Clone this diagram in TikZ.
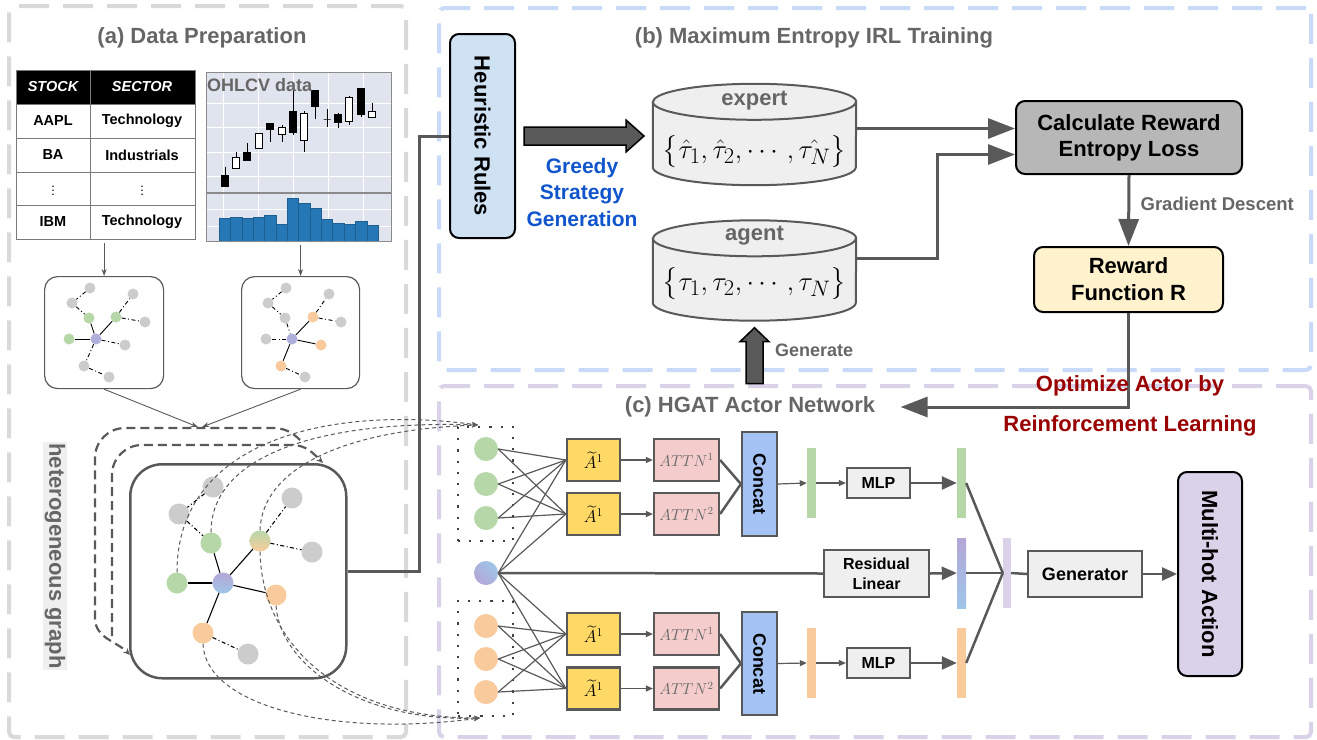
\documentclass[tikz,border=0pt]{standalone}
\usepackage{amsmath}
\usepackage{graphicx}
\usepackage{fontspec}
\setsansfont{Liberation Sans}
\usetikzlibrary{arrows.meta,positioning,calc}

\definecolor{lineColor}{RGB}{89,89,89}
\definecolor{textGray}{RGB}{102,102,102}
\definecolor{panelA}{RGB}{217,217,217}
\definecolor{panelB}{RGB}{201,218,248}
\definecolor{panelC}{RGB}{217,210,233}
\definecolor{boxBg}{RGB}{239,239,239}
\definecolor{nodeGray}{RGB}{204,204,204}
\definecolor{nodeGreen}{RGB}{182,215,168}
\definecolor{nodeOrange}{RGB}{249,203,156}
\definecolor{nodePurple}{RGB}{180,167,214}
\definecolor{nodeBlue}{RGB}{159,197,232}
\definecolor{ruleBlue}{RGB}{207,226,243}
\definecolor{lossGray}{RGB}{183,183,183}
\definecolor{rewardYellow}{RGB}{255,242,204}
\definecolor{adjYellow}{RGB}{255,217,102}
\definecolor{attnPink}{RGB}{244,204,204}
\definecolor{concatBlue}{RGB}{164,194,244}
\definecolor{actionLilac}{RGB}{217,210,233}
\definecolor{chartBg}{RGB}{224,228,239}
\definecolor{volBlue}{RGB}{38,119,181}
\definecolor{greedyBlue}{RGB}{17,85,204}
\definecolor{optRed}{RGB}{153,0,0}

\begin{document}
\begin{tikzpicture}[
  x=1pt, y=1pt,
  font=\sffamily,
  panel/.style={dash pattern=on 30pt off 14pt, line width=4pt, rounded corners=5pt, inner sep=0pt, anchor=north west},
  title/.style={font=\sffamily\bfseries\fontsize{22}{26}\selectfont, text=textGray},
  sublabel/.style={font=\sffamily\bfseries\fontsize{18}{21}\selectfont, text=textGray},
  redlabel/.style={font=\sffamily\bfseries\fontsize{22}{26}\selectfont, text=optRed},
  bigbox/.style={draw=black, line width=2pt, rounded corners=9pt, inner sep=0pt, align=center, font=\sffamily\bfseries\fontsize{22}{26}\selectfont},
  block/.style={draw=lineColor, line width=2.2pt, inner sep=0pt, align=center, font=\sffamily\bfseries\fontsize{16}{20}\selectfont},
  vtext/.style={rotate=-90, font=\sffamily\bfseries\fontsize{22}{26}\selectfont},
  cell/.style={font=\sffamily\bfseries\fontsize{14.5}{17}\selectfont},
  headcell/.style={font=\sffamily\bfseries\itshape\fontsize{14.5}{17}\selectfont, text=white},
  tableline/.style={draw=lineColor!80, line width=1pt},
  mininode/.style={circle, inner sep=0pt, minimum size=11pt},
  hnode/.style={circle, inner sep=0pt, minimum size=21pt},
  fnode/.style={circle, inner sep=0pt, minimum size=24pt},
  bar/.style={inner sep=0pt, minimum width=9pt, minimum height=70pt},
  dbspan/.style={inner sep=0pt},
  dbline/.style={draw=lineColor, line width=2pt, fill=boxBg},
  link/.style={draw=black, line width=1.1pt},
  weaklink/.style={draw=black, line width=1.1pt, dash pattern=on 4pt off 2.5pt on 1pt off 2.5pt},
  thinarrow/.style={draw=lineColor, line width=0.9pt, -{Stealth[length=7pt,width=5pt]}},
  stackline/.style={draw=lineColor, line width=2.2pt, dash pattern=on 9pt off 5pt},
  flowcurve/.style={draw=lineColor, line width=1pt, dash pattern=on 4pt off 3pt, -{Stealth[length=6pt,width=5pt]}},
  dotbox/.style={draw=black!75, line width=2.2pt, dash pattern=on 2.2pt off 9pt, inner sep=0pt},
  wire/.style={draw=lineColor, line width=3pt},
  flow/.style={wire, -{Triangle[length=27pt,width=20pt]}},
  bulk/.style={draw=black, line width=1.5pt, fill=lineColor, line join=miter},
  fan/.style={draw=lineColor, line width=1.2pt},
  smallflow/.style={draw=lineColor, line width=1.2pt, -{Triangle[length=7pt,width=6pt]}},
  merge/.style={draw=lineColor, line width=2.5pt},
  stepflow/.style={merge, -{Triangle[length=15pt,width=13pt]}}
]
\useasboundingbox (0,0) rectangle (1317,-739);

% ---------------- panels ----------------
\node[panel, draw=panelA, minimum width=397, minimum height=731] (pa) at (7,-4) {};
\node[panel, draw=panelB, minimum width=872, minimum height=362] (pb) at (437,-6) {};
\node[panel, draw=panelC, minimum width=872, minimum height=351] (pc) at (437,-384) {};

\node[title] (ta) at (202,-38) {(a) Data Preparation};
\node[title] (tb) at (814,-38) {(b) Maximum Entropy IRL Training};
\node[title] (tc) at (750,-407) {(c) HGAT Actor Network};

% ---------------- (a) stock table ----------------
\node[inner sep=0pt, minimum width=179, minimum height=169, anchor=north west] (tbl) at (16,-70) {};
\fill[black] (tbl.north west) rectangle (195,-104);
\foreach \ry in {104,138,172,205}
  \draw[tableline] (16,-\ry) -- (195,-\ry);
\draw[tableline] (90,-70) -- (90,-239);
\draw[tableline] (tbl.north west) rectangle (tbl.south east);
\node[headcell] (hstock) at (53,-87) {STOCK};
\node[headcell] (hsector) at (142,-87) {SECTOR};
\foreach \tick/\sec/\ry [count=\r] in {AAPL/Technology/121, BA/Industrials/155, {\fontsize{9}{9}\selectfont$\vdots$}/{\fontsize{9}{9}\selectfont$\vdots$}/188, IBM/Technology/222} {
  \node[cell] (tick\r) at (53,-\ry) {\tick};
  \node[cell] (sec\r) at (142,-\ry) {\sec};
}

% ---------------- (a) OHLCV chart ----------------
\node[fill=chartBg, inner sep=0pt, minimum width=185, minimum height=169, anchor=north west] (chart) at (206,-72) {};
\foreach \gx in {223,258,293,328,363}
  \draw[white, line width=0.8pt] (\gx,-72) -- (\gx,-241);
\foreach \gy in {103,127,152,176,209,226}
  \draw[white, line width=0.8pt] (206,-\gy) -- (391,-\gy);
\foreach \k/\vb in {0/218,1/217,2/218,3/217,4/215,5/224,6/198,7/203,8/208,9/219,10/223,11/224,12/221,13/225}
  \filldraw[fill=volBlue, draw=volBlue!80!black, line width=0.3pt] (219+11.36*\k,-\vb) rectangle (230.36+11.36*\k,-241);
\foreach \cx/\wt/\wb/\bt/\bb/\cf in {225/167/187/175/186/black, 236/152/168/157/168/white, 247/143/161/152/160/black,
    259/133/148/133/148/white, 270/123/142/123/129/black, 282/125/142/127/134/white, 293/89/135/111/132/black,
    304/111/152/113/140/white, 315/90/119/90/106/black, 327/109/127/119/119/black, 338/113/128/114/122/black,
    349/96/125/97/121/white, 361/88/117/88/114/black, 372/103/118/111/117/white} {
  \draw[black, line width=0.6pt] (\cx,-\wt) -- (\cx,-\wb);
  \filldraw[fill=\cf, draw=black, line width=0.6pt] (\cx-3.5,-\bt) rectangle (\cx+3.5,-\bb);
}
\draw[lineColor!70, line width=1.2pt] (206,-193) -- (391,-193);
\draw[lineColor!70, line width=1pt] (chart.north west) rectangle (chart.south east);
\node[sublabel, anchor=west, inner sep=1pt] (ohlcv) at (206,-85) {OHLCV data};

% ---------------- (a) two relation graphs ----------------
\node[draw=lineColor, line width=1.2pt, rounded corners=13pt, minimum width=119, minimum height=112, anchor=north west] (ga) at (44,-276) {};
\node[draw=lineColor, line width=1.2pt, rounded corners=13pt, minimum width=118, minimum height=112, anchor=north west] (gb) at (241,-276) {};
\draw[thinarrow] (tbl.south -| ga.north) ++(0,-4) -- (ga.north);
\draw[thinarrow] (chart.south -| gb.north) ++(0,-4) -- (gb.north);

\foreach \n/\px/\py/\c in {a1/90/288/nodeGray, a2/72/303/nodeGray, a3/89/318/nodeGreen, a4/116/317/nodeGreen,
    a5/133/294/nodeGray, a6/145/322/nodeGray, a7/69/339/nodeGreen, a8/96/339/nodePurple!70!nodeBlue,
    a9/125/345/nodeGray, a10/84/366/nodeGray, a11/109/377/nodeGray,
    b1/286/288/nodeGray, b2/268/303/nodeGray, b3/285/318/nodeGray, b4/313/317/nodeOrange,
    b5/329/294/nodeGray, b6/341/322/nodeGray, b7/266/339/nodeGray, b8/292/339/nodePurple!70!nodeBlue,
    b9/321/345/nodeOrange, b10/281/366/nodeOrange, b11/305/377/nodeGray}
  \node[mininode, fill=\c] (\n) at (\px,-\py) {};
\foreach \u/\v in {a8/a3, a8/a4, a8/a7, b8/b4, b8/b9, b8/b10}
  \draw[link, line width=0.9pt] (\u) -- (\v);
\foreach \u/\v in {a1/a2, a2/a3, a4/a5, a4/a6, a8/a9, a8/a10, a10/a11, b1/b2, b2/b3, b3/b8, b4/b5, b4/b6, b8/b7, b10/b11}
  \draw[weaklink, line width=0.9pt] (\u) -- (\v);

\coordinate (hin) at (200,-427);
\draw[thinarrow] (ga.south) -- ([xshift=-2]hin);
\draw[thinarrow] (gb.south) -- ([xshift=2]hin);

% ---------------- (a) heterogeneous graph ----------------
\node[fill=boxBg, inner sep=2pt, vtext, text=textGray] (hglbl) at (55,-556) {heterogeneous graph};

\draw[stackline, -{Stealth[length=7pt,width=6pt]}] (300,-440) to[out=135,in=0] (272,-428) -- (125,-428)
  to[out=180,in=90] (95,-458) -- (95,-618) to[out=-90,in=135] (130,-655);
\draw[stackline, -{Stealth[length=7pt,width=6pt]}] (112,-636) -- (112,-475) to[out=90,in=180] (142,-445)
  -- (292,-445) to[out=0,in=135] (323,-463);

\node[draw=lineColor, line width=2.5pt, fill=white, rounded corners=32pt, minimum width=216, minimum height=214, anchor=north west] (hg) at (129,-463) {};

\foreach \n/\px/\py/\c in {h1/213/487/nodeGray, h2/179/514/nodeGray, h3/292/498/nodeGray, h4/211/543/nodeGreen,
    h6/312/552/nodeGray, h7/177/583/nodeGreen, h9/276/595/nodeOrange, h10/203/633/nodeOrange, h11/248/654/nodeGray}
  \node[hnode, fill=\c] (\n) at (\px,-\py) {};
\node[hnode, top color=nodeGreen, bottom color=nodeOrange] (h5) at (260,-541) {};
\node[hnode, top color=nodePurple, bottom color=nodeBlue] (h8) at (223,-583) {};
\foreach \u/\v in {h8/h4, h8/h5, h8/h7, h8/h9, h8/h10}
  \draw[link] (\u) -- (\v);
\foreach \u/\v in {h1/h2, h2/h4, h5/h3, h5/h6, h10/h11}
  \draw[weaklink] (\u) -- (\v);

% node features flowing to the actor network
\coordinate (upin) at (478,-425);
\coordinate (lowin) at (480,-718);
\draw[flowcurve] (h7.north) .. controls (177,-440) and (330,-405) .. (upin);
\draw[flowcurve] (h4.north) .. controls (211,-455) and (320,-420) .. (upin);
\draw[flowcurve] (h5.north) .. controls (262,-470) and (340,-430) .. (upin);
\draw[flowcurve] (h10.south) .. controls (205,-705) and (330,-738) .. (lowin);
\draw[flowcurve] (h9.south) .. controls (280,-665) and (360,-722) .. (lowin);
\draw[flowcurve] (h5.south) .. controls (262,-645) and (340,-718) .. (lowin);

% ---------------- (b) IRL training ----------------
\node[bigbox, fill=ruleBlue, minimum width=65, minimum height=204] (rules) at (482.5,-136) {};
\node[vtext] (rulestext) at (rules.center) {Heuristic Rules};
\draw[wire] (hg.east) -- ++(72,0) |- (rules.west);

\draw[bulk] ($(rules.east)+(8,9)$) -- ++(102,0) -- ++(0,7) -- ++(18,-16) -- ++(-18,-16) -- ++(0,7) -- ++(-102,0) -- cycle;
\node[font=\sffamily\bfseries\fontsize{21}{26.5}\selectfont, text=greedyBlue, align=center] (greedy) at (582,-192) {Greedy\\Strategy\\Generation};

\node[dbspan, minimum width=203, minimum height=101] (expert) at (754.5,-134.5) {};
\node[dbspan, minimum width=203, minimum height=100] (agent) at (754.5,-270.5) {};
\foreach \db in {expert,agent} {
  \filldraw[dbline] ($(\db.north west)+(0,-18)$) -- ($(\db.south west)+(0,18)$)
    arc[start angle=180, end angle=360, x radius=101.5, y radius=18]
    -- ($(\db.north east)+(0,-18)$) arc[start angle=0, end angle=180, x radius=101.5, y radius=18] -- cycle;
  \draw[dbline, fill=none] ($(\db.north west)+(0,-18)$) arc[start angle=180, end angle=360, x radius=101.5, y radius=18];
}
\node[title] (explbl) at ($(expert.north)+(0,-17)$) {expert};
\node[title] (agtlbl) at ($(agent.north)+(0,-15)$) {agent};
\node (expset) at ($(expert.center)+(0,-17)$) {\scalebox{1.08}{\Huge$\bigl\{\hat{\tau}_1,\hat{\tau}_2,\cdots,\hat{\tau_N}\bigr\}$}};
\node (agtset) at ($(agent.center)+(0,-13)$) {\scalebox{1.08}{\Huge$\bigl\{\tau_1,\tau_2,\cdots,\tau_N\bigr\}$}};

\node[bigbox, fill=lossGray, minimum width=226, minimum height=73] (calc) at (1129,-137.5) {Calculate Reward\\Entropy Loss};
\node[bigbox, fill=rewardYellow, minimum width=189, minimum height=65] (reward) at (1128.5,-279.5) {Reward\\[1pt]Function R};

\coordinate (eo) at ($(expert.east)+(0,6)$);
\draw[flow] (eo) -- (eo -| calc.west);
\coordinate (ao) at ($(agent.east)+(0,12)$);
\coordinate (ai) at ($(calc.west)+(0,-17)$);
\draw[flow] (ao) -- ++(81,0) |- (ai);
\draw[flow] (calc.south) -- (reward.north) node[pos=0.4, right=7pt, sublabel, font=\sffamily\bfseries\fontsize{18.5}{21}\selectfont] (gdlbl) {Gradient Descent};
\draw[flow] (reward.south) |- ([xshift=22]tc.east);
\node[redlabel] (opt1) at (1130,-386) {Optimize Actor by};
\node[redlabel] (opt2) at (1130,-426) {Reinforcement Learning};

\draw[bulk] ($(agent.south)+(0,-7)$) -- ++(14.5,-14) -- ++(-6,0) -- ++(0,-42) -- ++(-17,0) -- ++(0,42) -- ++(-6,0) -- cycle;
\node[sublabel, anchor=west] (genlbl) at ($(agent.south)+(17,-30)$) {Generate};

% ---------------- (c) actor network ----------------
\node[dotbox, minimum width=55, minimum height=114] (udot) at (485.5,-484) {};
\node[dotbox, minimum width=55, minimum height=115] (ldot) at (485.5,-658.5) {};
\foreach \n/\py in {g1/449, g2/484, g3/518}
  \node[fnode, fill=nodeGreen] (\n) at (486,-\py) {};
\foreach \n/\py in {o1/626, o2/659, o3/692}
  \node[fnode, fill=nodeOrange] (\n) at (486,-\py) {};
\node[fnode, left color=nodePurple, right color=nodeBlue, shading angle=135] (p0) at (486,-573) {};

\foreach \n/\py in {ya1/460, ya2/514, yb1/634, yb2/688.5}
  \node[block, fill=adjYellow, minimum width=53, minimum height=42, font=\LARGE] (\n) at (593.5,-\py) {$\widetilde{A}^1$};
\foreach \n/\py/\h in {aa1/460/1, aa2/514/2, ab1/634/1, ab2/688.5/2}
  \node[block, fill=attnPink, minimum width=65, minimum height=42, text=textGray, font=\Large] (\n) at (686.5,-\py) {\scalebox{1.1}{$ATTN^{\h}$}};
\node[block, fill=concatBlue, minimum width=35, minimum height=104, label={[vtext, font=\sffamily\bfseries\fontsize{18}{22}\selectfont]center:Concat}] (ca) at (759.5,-484) {};
\node[block, fill=concatBlue, minimum width=35, minimum height=103, label={[vtext, font=\sffamily\bfseries\fontsize{18}{22}\selectfont]center:Concat}] (cb) at (759.5,-663.5) {};

\foreach \s in {g1,g2,g3,p0}
  \foreach \t in {ya1,ya2}
    \draw[fan] (\s.east) -- (\t.west);
\foreach \s in {o1,o2,o3,p0}
  \foreach \t in {yb1,yb2}
    \draw[fan] (\s.east) -- (\t.west);
\foreach \y/\a in {ya1/aa1, ya2/aa2, yb1/ab1, yb2/ab2}
  \draw[smallflow] (\y) -- (\a);
\foreach \a/\c in {aa1/ca, aa2/ca, ab1/cb, ab2/cb}
  \draw[merge] (\a.east) -- (\c.west);

\node[bar, fill=nodeGreen] (gbar1) at (811.5,-483) {};
\node[bar, fill=nodeGreen] (gbar2) at (961.5,-483) {};
\node[bar, fill=nodeOrange] (obar1) at (811.5,-663) {};
\node[bar, fill=nodeOrange] (obar2) at (961.5,-663) {};
\node[bar, top color=nodePurple, bottom color=nodeBlue] (pbar) at (961.5,-573) {};
\node[bar, fill=actionLilac, minimum width=8pt] (lav) at (1007,-573) {};

\node[block, fill=boxBg, minimum width=63, minimum height=30] (mlp1) at (878.5,-483) {MLP};
\node[block, fill=boxBg, minimum width=63, minimum height=30] (mlp2) at (878.5,-663) {MLP};
\node[block, fill=boxBg, minimum width=105, minimum height=47] (res) at (876.5,-573.5) {Residual\\Linear};
\node[block, fill=boxBg, minimum width=114, minimum height=46, font=\sffamily\bfseries\fontsize{18}{22}\selectfont] (gen) at (1085,-574) {Generator};
\node[bigbox, fill=actionLilac, minimum width=64, minimum height=204] (act) at (1210,-574) {};
\node[vtext] (acttext) at (act.center) {Multi-hot Action};

\draw[smallflow] (ca.east) -- (gbar1.west);
\draw[smallflow] (gbar1.east) -- (mlp1.west);
\draw[smallflow] (cb.east) -- (obar1.west);
\draw[smallflow] (obar1.east) -- (mlp2.west);
\draw[stepflow] (mlp1.east) -- (gbar2.west);
\draw[stepflow] (mlp2.east) -- (obar2.west);
\draw[merge] (p0.east) -- (res.west);
\draw[stepflow] (res.east) -- (pbar.west);
\draw[merge] (gbar2.east) -- (lav.west);
\draw[merge] (obar2.east) -- (lav.west);
\draw[merge] (pbar.east) -- (lav.west);
\draw[merge] (lav.east) -- (gen.west);
\draw[stepflow] (gen.east) -- (act.west);
\end{tikzpicture}
\end{document}
